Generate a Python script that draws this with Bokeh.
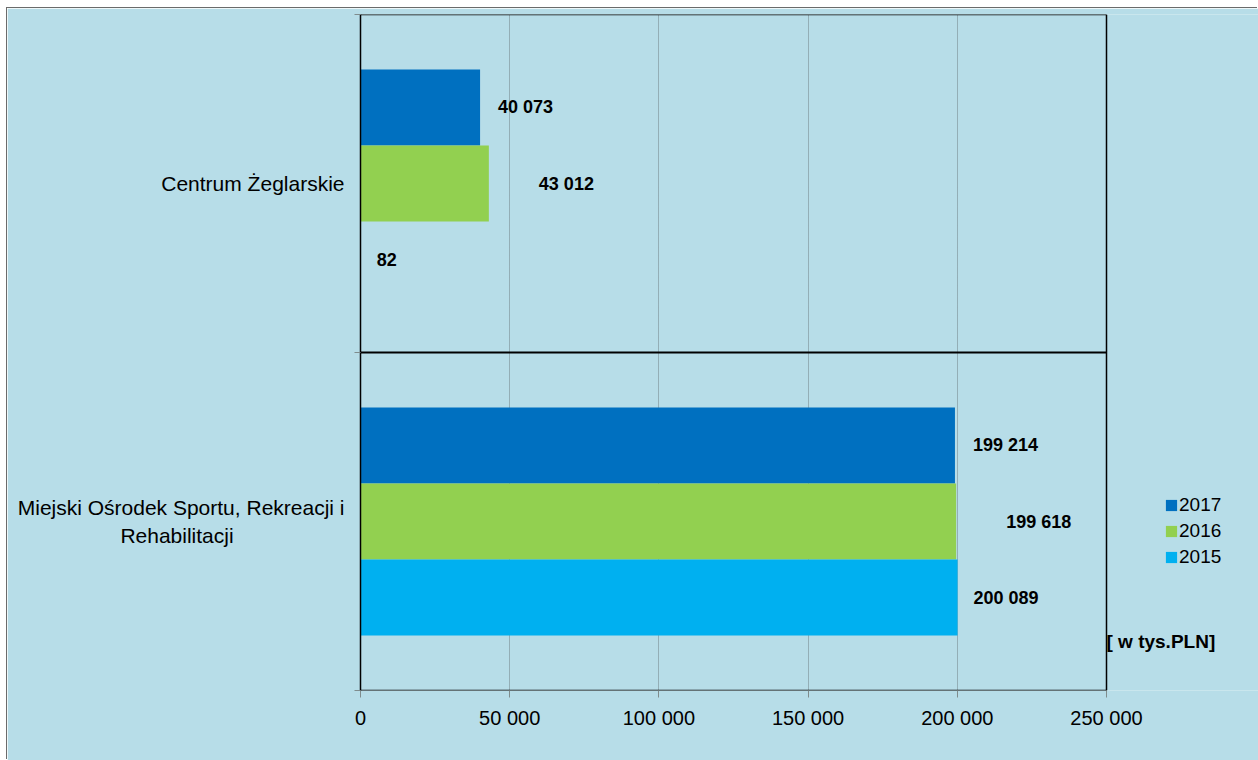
from bokeh.plotting import figure
from bokeh.models import (Range1d, FixedTicker, Span, Label, Legend, LegendItem,
                          ColumnDataSource)
from bokeh.core.properties import value
from bokeh.embed import file_html
from bokeh.resources import INLINE

# ---- data ----
categories = ["Centrum Żeglarskie",
              "Miejski Ośrodek Sportu, Rekreacji i\nRehabilitacji"]
years = ["2017", "2016", "2015"]
v2017 = [40073, 199214]
v2016 = [43012, 199618]
v2015 = [82, 200089]
x_ticks = [0, 50000, 100000, 150000, 200000, 250000]
x_tick_labels = ["0", "50 000", "100 000", "150 000", "200 000", "250 000"]
unit_label = "[ w tys.PLN]"

# ---- styles / layout ----
colors = ["#0070c0", "#92d050", "#00b0f0"]
bar_offsets = [0.225, 0.0, -0.225]
label_px_offsets = [18, 50, 16]
BG = "#b7dde8"
FONT = "Liberation Sans"
OFF_X, OFF_Y = 7, 8          # canvas position on the page
W, H = 1258 - OFF_X, 760 - OFF_Y
LEFT = 360 - OFF_X           # frame left on canvas
TOP = 14 - OFF_Y
BOTTOM = 70
AXIS_PX = 746                # pixel length of the value axis 0..max tick
frame_px = W - LEFT

n = len(categories)
centers = [n - i - 0.5 for i in range(n)]
x_max = x_ticks[-1]
x_end = x_max * frame_px / AXIS_PX

# centre the second line of wrapped category names (axis labels are right-aligned)
def centred(name, pad=19):
    lines = name.split("\n")
    if len(lines) == 1:
        return name
    return lines[0] + "\n" + lines[1] + "\u00a0" * pad

p = figure(width=W, height=H, output_backend="svg", toolbar_location=None,
           x_range=Range1d(0, x_end), y_range=Range1d(0, n),
           min_border_left=LEFT, min_border_right=0, min_border_top=TOP,
           min_border_bottom=BOTTOM)
p.styles = {"margin-left": f"{OFF_X}px", "margin-top": f"{OFF_Y}px",
            "box-shadow": "-1px -1px 0 0 #6b6b6b"}
p.background_fill_color = BG
p.border_fill_color = BG
p.outline_line_color = None

# grid
p.xgrid.grid_line_color = "#6f7f85"
p.xgrid.grid_line_dash = "1 1"
p.xgrid.grid_line_width = 1
p.ygrid.grid_line_color = None

series = [v2017, v2016, v2015]
renderers = []
for vals, col, off, lpx in zip(series, colors, bar_offsets, label_px_offsets):
    src = ColumnDataSource(dict(
        y=[c + off for c in centers],
        right=vals,
        txt=[f"{v:,}".replace(",", " ") for v in vals],
    ))
    r = p.hbar(y="y", left=0, right="right", height=0.225, source=src,
               fill_color=col, line_color=None)
    renderers.append(r)
    p.text(x="right", y="y", text="txt", source=src, x_offset=lpx,
           text_align="left", text_baseline="middle",
           text_font=value(FONT), text_font_style="bold",
           text_font_size="18px", text_color="black")

# plot-area frame: top border, bottom axis line, category separators, right border
p.segment(x0=[0] * (n + 1), x1=[x_max] * (n + 1), y0=list(range(n + 1)),
          y1=list(range(n + 1)), line_color="black",
          line_width=[1.5] + [2] * (n - 1) + [1.5])
p.add_layout(Span(location=x_max, dimension="height", line_color="black",
                  line_width=1.5))

# x axis
p.xaxis.ticker = FixedTicker(ticks=x_ticks)
p.xaxis.major_label_overrides = {t: l for t, l in zip(x_ticks, x_tick_labels)}
p.xaxis.axis_line_color = None
p.xaxis.major_tick_line_color = "#7f8c8d"
p.xaxis.major_tick_out = 7
p.xaxis.major_tick_in = 0
p.xaxis.minor_tick_line_color = None
p.xaxis.major_label_text_font = FONT
p.xaxis.major_label_text_font_size = "20px"
p.xaxis.major_label_text_color = "black"
p.xaxis.major_label_standoff = 9

# y axis
p.yaxis.ticker = FixedTicker(ticks=centers, minor_ticks=list(range(n + 1)))
p.yaxis.major_label_overrides = {c: centred(name) for c, name in zip(centers, categories)}
p.yaxis.axis_line_color = "black"
p.yaxis.axis_line_width = 1.5
p.yaxis.major_tick_line_color = None
p.yaxis.major_tick_out = 0
p.yaxis.major_tick_in = 0
p.yaxis.minor_tick_line_color = "#7f8c8d"
p.yaxis.minor_tick_out = 6
p.yaxis.minor_tick_in = 0
p.yaxis.major_label_text_font = FONT
p.yaxis.major_label_text_font_size = "21px"
p.yaxis.major_label_text_color = "black"
p.yaxis.major_label_standoff = 10

# legend
legend = Legend(items=[LegendItem(label=y, renderers=[r]) for y, r in zip(years, renderers)],
                location=(804, 122), padding=0, margin=0, spacing=4,
                glyph_width=14, glyph_height=14, label_standoff=1,
                label_text_font=FONT, label_text_font_size="19px",
                label_text_color="black",
                background_fill_alpha=0, border_line_color=None)
p.add_layout(legend)

p.add_layout(Label(x=x_max, y=0, y_offset=49, text=unit_label,
                   text_align="left", text_baseline="middle",
                   text_font=FONT, text_font_style="bold",
                   text_font_size="19px", text_color="black"))

open("out.html", "w").write(file_html(p, INLINE))
